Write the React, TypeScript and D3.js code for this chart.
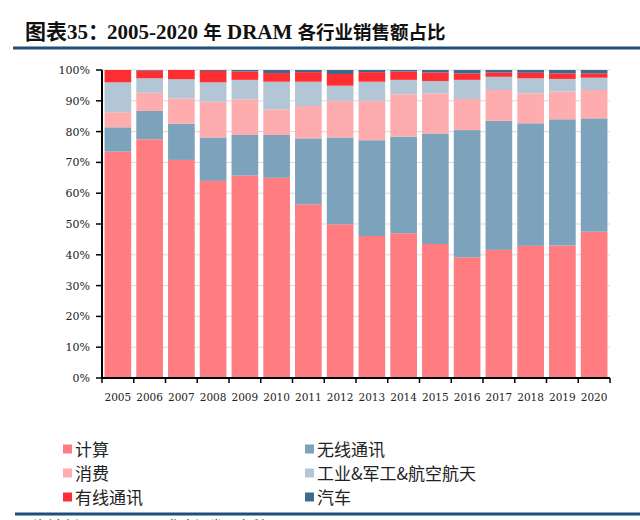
import React from "react";
import * as d3 from "d3";

const years = ["2005","2006","2007","2008","2009","2010","2011","2012","2013","2014","2015","2016","2017","2018","2019","2020"];
const computing = [73.5, 77.5, 70.8, 64.0, 65.7, 65.0, 56.4, 49.9, 46.1, 47.0, 43.5, 39.2, 41.6, 42.9, 43.0, 47.5];
const wireless = [7.9, 9.2, 11.8, 14.1, 13.2, 13.9, 21.4, 28.2, 31.1, 31.4, 35.9, 41.3, 41.9, 39.8, 41.0, 36.8];
const consumer = [4.9, 5.9, 8.2, 11.6, 11.6, 8.3, 10.5, 11.9, 12.7, 13.7, 13.0, 10.1, 10.0, 9.7, 9.0, 9.2];
const industrial = [9.7, 4.7, 6.2, 6.3, 6.3, 9.0, 7.9, 4.9, 6.3, 4.7, 4.0, 6.2, 4.3, 4.9, 4.1, 4.0];
const wired = [4.0, 2.5, 3.0, 3.7, 2.7, 2.8, 3.1, 3.8, 3.1, 2.7, 2.8, 2.1, 1.4, 1.8, 1.8, 1.4];
const automotive = [0.0, 0.2, 0.0, 0.3, 0.5, 1.0, 0.7, 1.3, 0.7, 0.5, 0.8, 1.1, 0.8, 0.9, 1.1, 1.1];

const seriesNames = ["计算", "无线通讯", "消费", "工业&军工&航空航天", "有线通讯", "汽车"];
const seriesValues = [computing, wireless, consumer, industrial, wired, automotive];
const seriesColors = ["#FF7C80", "#7DA3BC", "#FFACAE", "#B3C6D6", "#FF2E33", "#3E6A8C"];
const yTicks = [0, 0.1, 0.2, 0.3, 0.4, 0.5, 0.6, 0.7, 0.8, 0.9, 1.0];

const title1 = "图表35：";
const titleParts = [
  { t: "2005-2020 ", cjk: false },
  { t: "年", cjk: true },
  { t: " DRAM ", cjk: false },
  { t: "各行业销售额占比", cjk: true },
];
const source = "资料来源：Gartner，华泰证券研究所";

export default function App() {
  const left = 102, right = 610, top = 70, bottom = 378;
  const x = d3.scaleBand<string>().domain(years).range([left, right]).paddingInner(0.16).paddingOuter(0.08);
  const y = d3.scaleLinear().domain([0, 1]).range([bottom, top]);

  const rows = years.map((yr, i) => {
    const r: any = { year: yr };
    seriesNames.forEach((n, k) => { r[n] = seriesValues[k][i]; });
    return r;
  });
  const stacked = d3.stack<any>().keys(seriesNames).offset(d3.stackOffsetExpand)(rows);
  const step = x.step();
  const boundaries = d3.range(years.length + 1).map((i) => left + i * step * (right - left) / (step * years.length));

  const legendItems = [
    { k: 0, col: 0, row: 0 },
    { k: 1, col: 1, row: 0 },
    { k: 2, col: 0, row: 1 },
    { k: 3, col: 1, row: 1 },
    { k: 4, col: 0, row: 2 },
    { k: 5, col: 1, row: 2 },
  ];

  return (
    <svg width={640} height={520} style={{ position: "absolute", left: 0, top: 0, background: "#fff" }}>
      <text x={25} y={39} fontFamily="'Liberation Serif', 'Noto Sans CJK SC'" fontWeight="bold" fontSize={21} fill="#111">{title1}</text>
      <text x={107} y={39} fontFamily="'Liberation Serif', 'Noto Sans CJK SC'" fontWeight="bold" fill="#111">
        {titleParts.map((p, i) => (
          <tspan key={i} fontSize={p.cjk ? 18.5 : 21}>{p.t}</tspan>
        ))}
      </text>
      <rect x={13} y={46.5} width={627} height={3} fill="#1F4E79" />

      {yTicks.map((t) => (
        <line key={"g" + t} x1={left} x2={right} y1={y(t)} y2={y(t)} stroke="#D9D9D9" strokeWidth={1} />
      ))}

      {stacked.map((s, k) => (
        <g key={seriesNames[k]} fill={seriesColors[k]}>
          {s.map((d, i) => (
            <rect key={i} x={x(years[i])} y={y(d[1])} width={x.bandwidth()} height={Math.max(0, y(d[0]) - y(d[1]))} />
          ))}
        </g>
      ))}

      <line x1={left} x2={left} y1={top} y2={bottom} stroke="#000" strokeWidth={2} />
      <line x1={left} x2={right} y1={bottom} y2={bottom} stroke="#000" strokeWidth={2} />
      {yTicks.map((t) => (
        <g key={"t" + t}>
          <line x1={left - 6} x2={left} y1={y(t)} y2={y(t)} stroke="#000" strokeWidth={1.5} />
          <text x={90} y={y(t) + 4} textAnchor="end" fontFamily="'DejaVu Serif'" fontSize={11} fill="#222">{d3.format(".0%")(t)}</text>
        </g>
      ))}
      {boundaries.map((b, i) => (
        <line key={"b" + i} x1={b} x2={b} y1={bottom} y2={bottom + 5} stroke="#000" strokeWidth={1.5} />
      ))}
      {years.map((yr) => (
        <text key={yr} x={(x(yr) as number) + x.bandwidth() / 2} y={401} textAnchor="middle" fontFamily="'DejaVu Serif'" fontSize={10.5} fill="#222">{yr}</text>
      ))}

      {legendItems.map((it) => {
        const lx = it.col === 0 ? 63 : 305;
        const ly = 449 + it.row * 24;
        return (
          <g key={"l" + it.k}>
            <rect x={lx} y={ly - 4.5} width={9} height={9} fill={seriesColors[it.k]} />
            <text x={lx + 12} y={ly + 6.5} fontFamily="'Noto Sans CJK SC'" fontSize={17} fill="#222">{seriesNames[it.k]}</text>
          </g>
        );
      })}

      <rect x={15} y={512.5} width={625} height={3} fill="#1F4E79" />
      <text x={33} y={531} fontFamily="'Noto Sans CJK SC'" fontSize={14} fill="#222">{source}</text>
    </svg>
  );
}
